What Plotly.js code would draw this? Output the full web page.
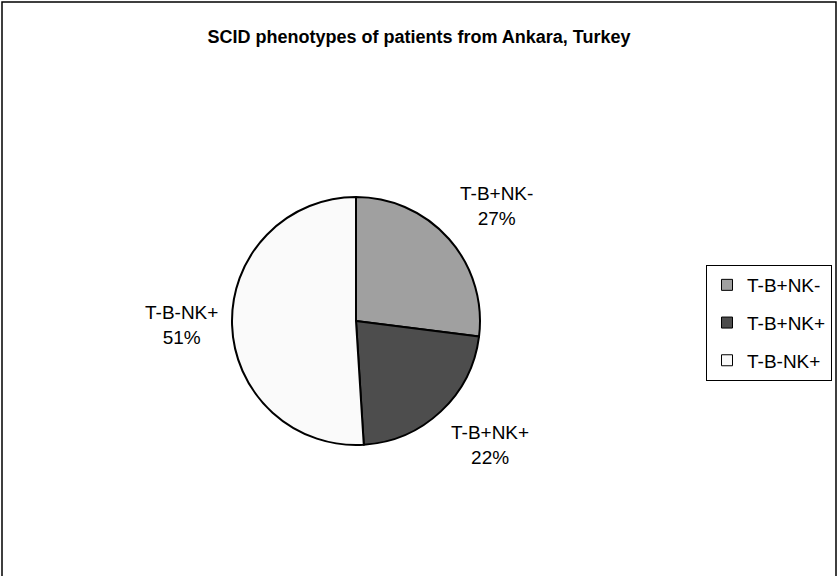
<!DOCTYPE html>
<html>
<head>
<meta charset="utf-8">
<script src="https://cdn.plot.ly/plotly-3.0.1.min.js"></script>
<style>
  html, body { margin: 0; padding: 0; background: #fff; }
  #chart { width: 838px; height: 576px; }
</style>
</head>
<body>
<div id="chart"></div>
<script>
// SCID phenotype distribution (percent of patients)
const phenotypes = ['T-B+NK-', 'T-B+NK+', 'T-B-NK+'];
const shares = [27, 22, 51];
const sliceColors = ['#a0a0a0', '#4d4d4d', '#fafafa'];
const chartTitle = 'SCID phenotypes of patients from Ankara, Turkey';

const W = 838, H = 576;
const FONT = 'Liberation Sans, Arial, sans-serif';

// pie placement in pixels: centre and radius
const cx = 356, cy = 321, r = 124;

const pie = {
  type: 'pie',
  labels: phenotypes,
  values: shares,
  sort: false,
  direction: 'clockwise',
  rotation: 0,
  marker: { colors: sliceColors, line: { color: '#000', width: 2 } },
  textinfo: 'none',
  showlegend: false,
  domain: { x: [(cx - r) / W, (cx + r) / W], y: [1 - (cy + r) / H, 1 - (cy - r) / H] },
  hoverinfo: 'skip'
};

// legend entries: one empty marker trace per phenotype, each in its own
// group so tracegroupgap can space the rows out
const legendTraces = phenotypes.map((name, i) => ({
  type: 'scatter', mode: 'markers',
  x: [null], y: [null],
  name: name,
  legendgroup: 'g' + i,
  marker: { symbol: 'square', size: 11, color: sliceColors[i], line: { color: '#000', width: 1 } },
  hoverinfo: 'skip'
}));

// slice labels placed just outside the rim, along each slice's mid-angle
const total = shares.reduce((a, b) => a + b, 0);
const labelRadius = r * 1.1;
let cum = 0;
const sliceLabels = shares.map((v, i) => {
  const mid = (cum + v / 2) / total * 2 * Math.PI;
  cum += v;
  const sx = Math.sin(mid), cy_ = Math.cos(mid);
  const px = cx + labelRadius * sx;
  const py = cy - labelRadius * cy_;
  return {
    xref: 'paper', yref: 'paper',
    x: px / W, y: 1 - py / H,
    xanchor: sx > 0.3 ? 'left' : (sx < -0.3 ? 'right' : 'center'),
    yanchor: cy_ > 0.3 ? 'bottom' : (cy_ < -0.3 ? 'top' : 'middle'),
    align: 'center',
    showarrow: false,
    text: phenotypes[i] + '<br>' + v + '%',
    font: { family: FONT, size: 19, color: '#000' }
  };
});

const layout = {
  width: W, height: H,
  margin: { l: 0, r: 0, t: 0, b: 0 },
  paper_bgcolor: '#fff',
  plot_bgcolor: '#fff',
  font: { family: FONT, color: '#000' },
  xaxis: { visible: false },
  yaxis: { visible: false },
  title: {
    text: chartTitle,
    font: { family: FONT, size: 18, weight: 700, color: '#000' },
    x: 0.5, xref: 'paper', xanchor: 'center',
    y: 1 - 37 / H, yref: 'container', yanchor: 'middle'
  },
  showlegend: true,
  legend: {
    x: 706 / W, xanchor: 'left',
    y: 1 - 265 / H, yanchor: 'top',
    traceorder: 'grouped',
    tracegroupgap: 10,
    bordercolor: '#000', borderwidth: 1,
    bgcolor: '#fff',
    font: { family: FONT, size: 19, color: '#000' }
  },
  annotations: sliceLabels,
  shapes: [{
    type: 'rect', xref: 'paper', yref: 'paper',
    x0: 2 / W, x1: 836 / W, y0: -0.05, y1: 1 - 2 / H,
    line: { color: '#000', width: 1.5 }
  }]
};

Plotly.newPlot('chart', [pie].concat(legendTraces), layout, { staticPlot: true });
</script>
</body>
</html>
